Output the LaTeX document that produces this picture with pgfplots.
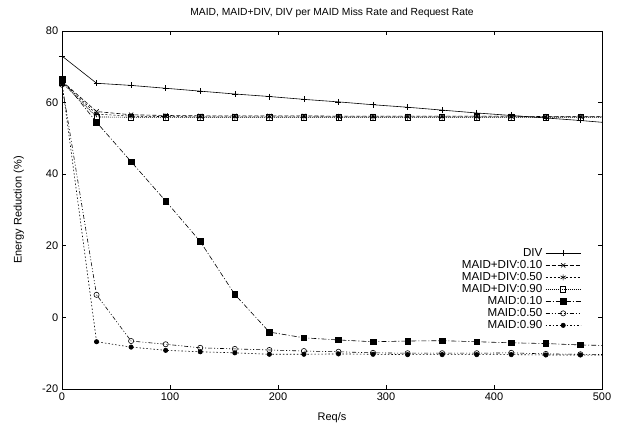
\documentclass[border=0pt]{standalone}
\usepackage{pgfplots}
\pgfplotsset{compat=1.18}
\usepackage{fontspec}
\setmainfont{Liberation Sans}
\begin{document}
\fontsize{11bp}{13bp}\selectfont
\begin{tikzpicture}
\begin{axis}[
  at={(0,0)}, anchor=south west,
  scale only axis, width=540bp, height=358bp,
  xmin=0, xmax=500, ymin=-20, ymax=80,
  xtick={0,100,...,500}, ytick={-20,0,...,80},
  tick align=inside, major tick length=4bp,
  tick style={black, line width=0.6pt},
  axis line style={line width=0.8pt},
  /pgf/number format/assume math mode=true,
  ticklabel style={font=\fontsize{11bp}{13bp}\selectfont},
  xlabel={Req/s}, ylabel={Energy Reduction (\%)},
  xlabel style={font=\fontsize{11bp}{13bp}\selectfont, at={(axis description cs:0.5,-0.081)}, anchor=center},
  ylabel style={font=\fontsize{11bp}{13bp}\selectfont, at={(axis description cs:-0.08,0.5)}, anchor=center},
  title={MAID, MAID+DIV, DIV per MAID Miss Rate and Request Rate},
  every axis title shift=0pt,
  title style={font=\fontsize{10.3bp}{12bp}\selectfont, at={(axis description cs:0.5,1.05)}, anchor=center},
  clip=true,
  every axis plot/.append style={line width=0.6pt, black},
  legend cell align=right,
  legend plot pos=right,
  legend style={at={(0.967,0.399)}, anchor=north east, draw=none, fill=none,
    font=\fontsize{11.6bp}{12bp}\selectfont, row sep=2bp, column sep=3bp,
    nodes={inner sep=0pt, text height=8bp, text depth=2bp}},
  legend image code/.code={
    \draw[mark repeat=2,mark phase=2] plot coordinates {(0bp,0bp) (17.5bp,0bp) (35bp,0bp)};
  },
]
\addplot[solid, mark=+, mark size=3bp] coordinates {
(0,73.0) (32,65.4) (64,64.8) (96,64.0) (128,63.2) (160,62.4) (192,61.7) (224,60.9) (256,60.2) (288,59.4) (320,58.7) (352,57.9) (384,57.1) (416,56.4) (448,55.7) (480,55.0) (512,54.2)};
\addlegendentry{DIV}
\addplot[dash pattern=on 4bp off 2bp, mark=x, mark size=3bp, mark options={solid}] coordinates {
(0,66.0) (32,57.5) (64,56.6) (96,56.4) (128,56.3) (160,56.3) (192,56.3) (224,56.3) (256,56.2) (288,56.2) (320,56.2) (352,56.2) (384,56.2) (416,56.2) (448,56.1) (480,56.1) (512,56.1)};
\addlegendentry{MAID+DIV:0.10}
\addplot[dash pattern=on 2bp off 2bp, mark=asterisk, mark size=3bp, mark options={solid}] coordinates {
(0,65.8) (32,56.8) (64,56.2) (96,56.1) (128,56.0) (160,56.0) (192,56.0) (224,56.0) (256,56.0) (288,56.0) (320,56.0) (352,56.0) (384,56.0) (416,56.0) (448,56.0) (480,56.0) (512,56.0)};
\addlegendentry{MAID+DIV:0.50}
\addplot[dash pattern=on 1bp off 1bp, mark=square, mark size=2.6bp, mark options={solid}] coordinates {
(0,65.6) (32,56.0) (64,55.9) (96,55.9) (128,55.9) (160,55.9) (192,55.9) (224,55.9) (256,55.9) (288,55.9) (320,55.9) (352,55.9) (384,55.9) (416,55.9) (448,55.9) (480,55.9) (512,55.9)};
\addlegendentry{MAID+DIV:0.90}
\addplot[dash pattern=on 5bp off 2bp on 1bp off 2bp, mark=square*, mark size=2.8bp, mark options={solid}] coordinates {
(0,66.5) (32,54.5) (64,43.5) (96,32.5) (128,21.2) (160,6.4) (192,-4.1) (224,-5.7) (256,-6.3) (288,-6.8) (320,-6.6) (352,-6.5) (384,-6.8) (416,-7.1) (448,-7.3) (480,-7.7) (512,-7.9)};
\addlegendentry{MAID:0.10}
\addplot[dash pattern=on 4bp off 2bp on 1bp off 2bp on 1bp off 2bp, mark=o, mark size=2.6bp, mark options={solid}] coordinates {
(0,65.0) (32,6.3) (64,-6.6) (96,-7.5) (128,-8.5) (160,-8.8) (192,-9.1) (224,-9.4) (256,-9.6) (288,-9.9) (320,-10.0) (352,-10.0) (384,-10.0) (416,-9.9) (448,-10.2) (480,-10.3) (512,-10.4)};
\addlegendentry{MAID:0.50}
\addplot[dash pattern=on 1.5bp off 2bp, mark=*, mark size=2.2bp, mark options={solid}] coordinates {
(0,65.5) (32,-6.8) (64,-8.3) (96,-9.2) (128,-9.6) (160,-9.9) (192,-10.3) (224,-10.3) (256,-10.2) (288,-10.3) (320,-10.4) (352,-10.4) (384,-10.4) (416,-10.4) (448,-10.5) (480,-10.5) (512,-10.6)};
\addlegendentry{MAID:0.90}
\end{axis}
\pgfresetboundingbox
\path[use as bounding box] (-62bp,-38bp) rectangle (567bp,389bp);
\end{tikzpicture}
\end{document}
